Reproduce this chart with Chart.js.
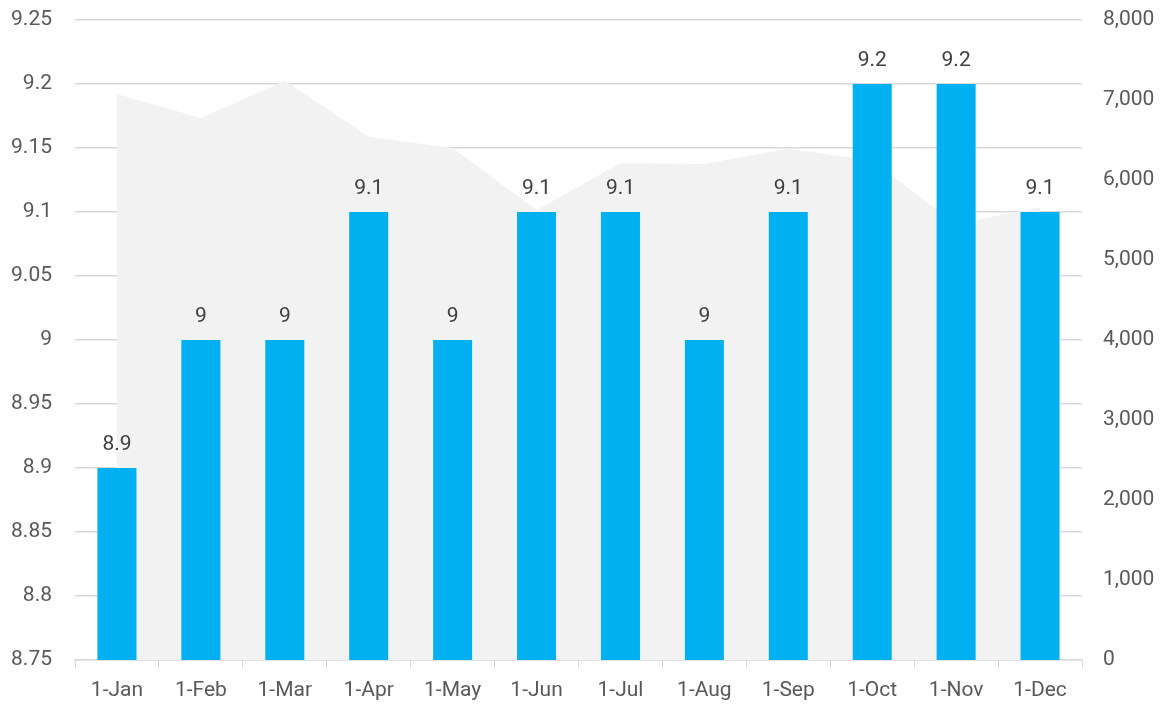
<!DOCTYPE html>
<html>
<head>
<meta charset="utf-8">
<script src="https://cdn.jsdelivr.net/npm/chart.js@4/dist/chart.umd.min.js"></script>
<style>
  html, body { margin: 0; padding: 0; background: #fff; }
  #wrap { width: 1176px; height: 707px; }
</style>
</head>
<body>
<div id="wrap"><canvas id="chart" width="1176" height="707"></canvas></div>
<script>
const months = ["1-Jan", "1-Feb", "1-Mar", "1-Apr", "1-May", "1-Jun", "1-Jul", "1-Aug", "1-Sep", "1-Oct", "1-Nov", "1-Dec"];
const rating = [8.9, 9, 9, 9.1, 9, 9.1, 9.1, 9, 9.1, 9.2, 9.2, 9.1];
const volume = [7075, 6775, 7240, 6540, 6400, 5625, 6210, 6200, 6390, 6240, 5450, 5660];

const textColor = "#595959";
const gridColor = "#D9D9D9";
const font = { family: "Roboto, 'Liberation Sans', sans-serif", size: 21 };

// value labels above each bar
const barLabels = {
  id: "barLabels",
  afterDatasetsDraw(chart) {
    const ctx = chart.ctx;
    const meta = chart.getDatasetMeta(1);
    ctx.save();
    ctx.font = `${font.size}px ${font.family}`;
    ctx.fillStyle = "#404040";
    ctx.textAlign = "center";
    ctx.textBaseline = "bottom";
    meta.data.forEach((bar, i) => {
      ctx.fillText(String(rating[i]), bar.x, bar.y - 13);
    });
    ctx.restore();
  }
};

new Chart(document.getElementById("chart").getContext("2d"), {
  type: "bar",
  data: {
    labels: months,
    datasets: [
      {
        type: "line",
        label: "Volume",
        data: volume,
        yAxisID: "y1",
        backgroundColor: "#F2F2F2",
        borderWidth: 0,
        pointRadius: 0,
        tension: 0,
        fill: "start",
        order: 2
      },
      {
        type: "bar",
        label: "Rating",
        data: rating,
        yAxisID: "y",
        backgroundColor: "#00B0F0",
        categoryPercentage: 1,
        barPercentage: 0.465,
        order: 1
      }
    ]
  },
  options: {
    responsive: false,
    animation: false,
    layout: { padding: { top: 20, left: 0, right: 0, bottom: 0 } },
    plugins: { legend: { display: false }, tooltip: { enabled: false } },
    scales: {
      x: {
        offset: true,
        afterFit(scale) { scale.height = 47; },
        grid: { offset: true, drawOnChartArea: false, color: gridColor, tickLength: 8 },
        border: { color: gridColor, width: 1.5 },
        ticks: { color: textColor, font: font, padding: 10, maxRotation: 0 }
      },
      y: {
        position: "left",
        min: 8.75,
        max: 9.25,
        afterFit(scale) { scale.width = 75; },
        // invisible tick marks keep the labels clear of the plot
        grid: { color: gridColor, lineWidth: 1.5, drawTicks: true, tickLength: 23, tickColor: "rgba(0,0,0,0)" },
        border: { display: false },
        ticks: {
          stepSize: 0.05,
          color: textColor,
          font: font,
          padding: 0,
          callback: v => String(+v.toFixed(2))
        }
      },
      y1: {
        position: "right",
        min: 0,
        max: 8000,
        afterFit(scale) { scale.width = 94; },
        grid: { drawOnChartArea: false, drawTicks: true, tickLength: 21, tickColor: "rgba(0,0,0,0)" },
        border: { display: false },
        ticks: {
          stepSize: 1000,
          color: textColor,
          font: font,
          padding: 0,
          callback: v => v.toLocaleString("en-US")
        }
      }
    }
  },
  plugins: [barLabels]
});
</script>
</body>
</html>
